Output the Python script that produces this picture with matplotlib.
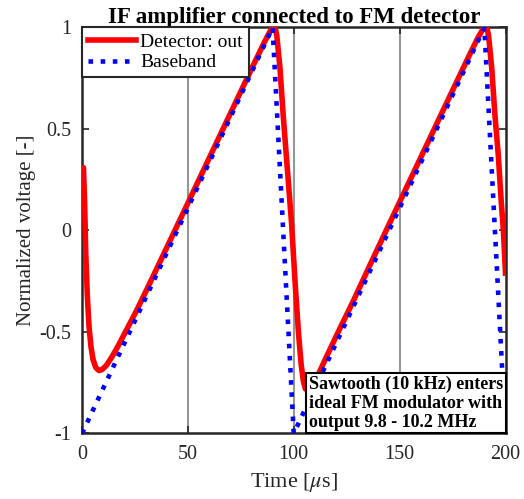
import matplotlib
matplotlib.use('Agg')
import matplotlib.pyplot as plt
from matplotlib.offsetbox import AnchoredText

plt.rcParams['font.family'] = ['Liberation Serif', 'DejaVu Serif']
plt.rcParams['mathtext.fontset'] = 'stix'
plt.rcParams['axes.unicode_minus'] = False

# detector output (time in us, normalized voltage)
det_t = [0, 0.3, 0.7, 1.2, 1.8, 2.5, 3.3, 4.2, 5.2, 6.5, 8, 9.5, 11.5, 14, 17,
         21, 26, 32, 40, 50, 60, 70, 80, 86, 89, 90.5, 91.2, 92, 93.5, 95,
         97, 99, 100.6, 102.2, 103.5, 104.5, 105.5, 107, 109, 112, 116, 121,
         128, 136, 145, 155, 165, 175, 183, 187, 189.5, 190.5, 191.2, 192,
         193.5, 195, 196.6, 198, 199, 200]
det_v = [0.24, 0.30, 0.31, 0.15, -0.12, -0.32, -0.47, -0.57, -0.635, -0.675,
         -0.69, -0.685, -0.665, -0.625, -0.57, -0.49, -0.39, -0.26, -0.085,
         0.135, 0.355, 0.575, 0.795, 0.925, 0.985, 1.005, 1.0, 0.96, 0.80,
         0.57, 0.30, 0.03, -0.25, -0.50, -0.66, -0.74, -0.78, -0.79, -0.765,
         -0.70, -0.61, -0.50, -0.35, -0.17, 0.03, 0.25, 0.47, 0.69, 0.865,
         0.95, 0.995, 1.005, 1.0, 0.96, 0.80, 0.57, 0.37, 0.14, 0.0, -0.21]

# sawtooth baseband
base_t = [0, 90, 100, 190, 200]
base_v = [-1, 1, -1, 1, -1]

xticks = [0, 50, 100, 150, 200]
yticks = [-1, -0.5, 0, 0.5, 1]
ytick_labels = ['-1', '-0.5', '0', '0.5', '1']

fig = plt.figure(figsize=(5.24, 4.99), dpi=100)
ax = fig.add_axes([0.1565, 0.1313, 0.8082, 0.8136])

for x in [50, 100, 150]:
    ax.axvline(x, color='#969696', lw=1.5, zorder=1)

ax.plot(det_t, det_v, color='#ff0000', lw=4.0, label='Detector: out', zorder=3)
ax.plot(base_t, base_v, color='#0000ff', lw=3.3, ls=':', label='Baseband', zorder=4)

ax.set_xlim(0, 200)
ax.set_ylim(-1, 1)
ax.set_xticks(xticks)
ax.set_yticks(yticks)
ax.set_yticklabels(ytick_labels)
ax.tick_params(direction='in', length=5, width=1.2, colors='#262626',
               labelsize=14.5, top=True, right=True, pad=8)
for s in ax.spines.values():
    s.set_linewidth(1.8)
    s.set_color('#262626')

ax.set_title('IF amplifier connected to FM detector', fontsize=16.5,
             fontweight='bold', pad=3)
ax.set_xlabel(r'Time [$\mu$s]', fontsize=16, color='#262626', labelpad=5)
ax.set_ylabel('Normalized voltage [-]', fontsize=15, color='#262626', labelpad=2)

leg = ax.legend(loc='upper left', borderaxespad=0, fancybox=False,
                edgecolor='#262626', framealpha=1, fontsize=14,
                handlelength=2.5, handletextpad=0.2, borderpad=0.3,
                labelspacing=0.15)
leg.get_frame().set_linewidth(1.5)

note = AnchoredText('Sawtooth (10 kHz) enters\nideal FM modulator with\noutput 9.8 - 10.2 MHz',
                    loc='lower right', borderpad=0, pad=0.15,
                    prop=dict(fontsize=13, fontweight='bold', linespacing=1.15))
note.patch.set_edgecolor('black')
note.patch.set_linewidth(1.5)
note.zorder = 6
ax.add_artist(note)

fig.savefig('out.png', dpi=100)
